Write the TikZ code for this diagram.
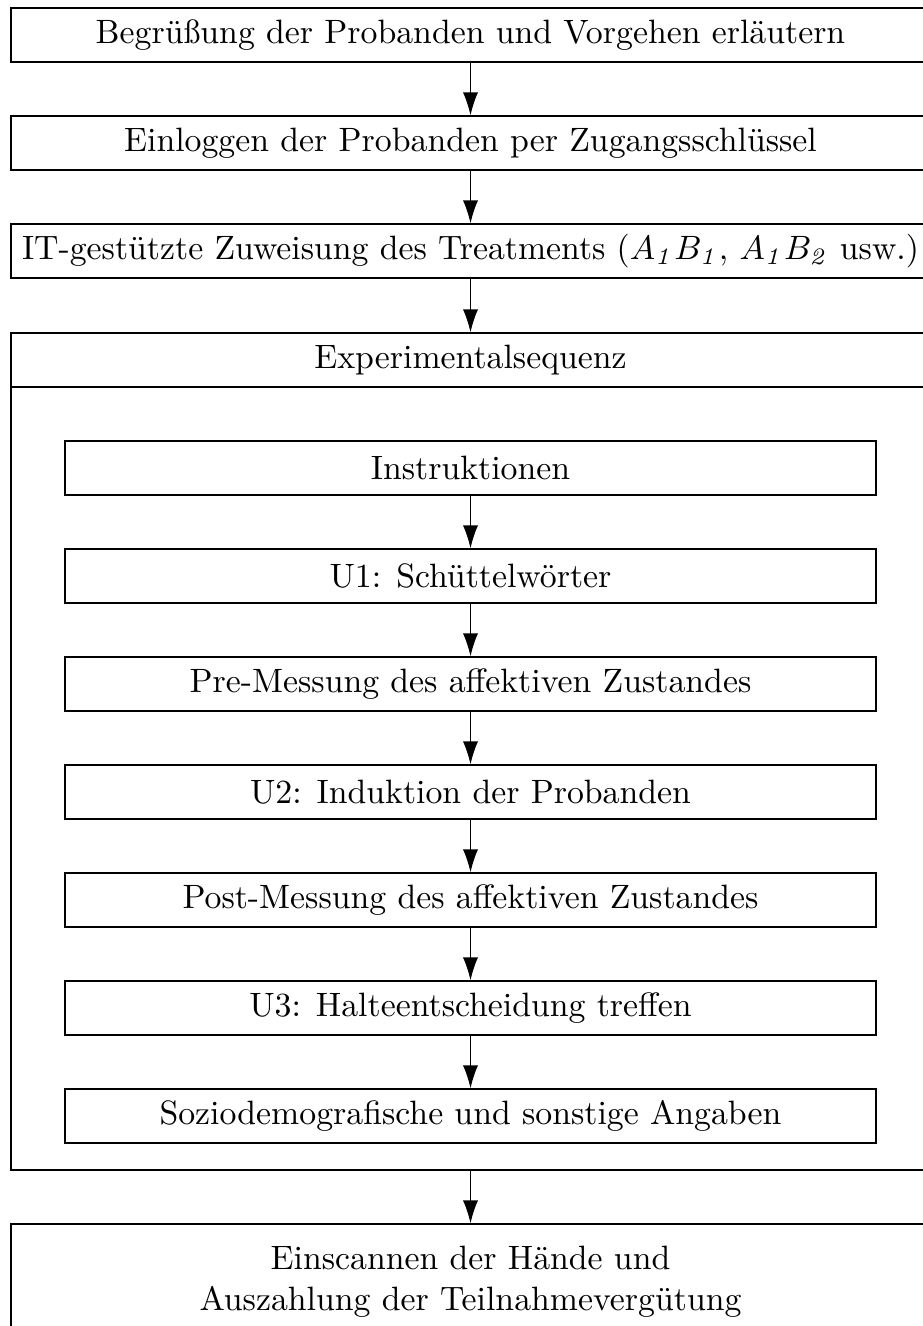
\documentclass[tikz,border=0pt]{standalone}
\usetikzlibrary{arrows.meta}
\begin{document}
\begin{tikzpicture}[x=0.296pt,y=-0.296pt,
  box/.style={draw,line width=0.4pt,inner sep=0pt,minimum height=54*0.296pt,align=center},
  outerbox/.style={box,minimum width=919*0.296pt},
  innerbox/.style={box,minimum width=811*0.296pt},
  flow/.style={draw,line width=0.4pt,-{Latex[length=6.8pt,width=4.5pt]}}]
\useasboundingbox (0,0) rectangle (922,1326);
\node[outerbox] (b1) at (470.5,35) {Begrüßung der Probanden und Vorgehen erläutern};
\node[outerbox] (b2) at (470.5,143) {Einloggen der Probanden per Zugangsschlüssel};
\node[outerbox] (b3) at (470.5,251) {IT-gestützte Zuweisung des Treatments ($A_{\mathit{1}}B_{\mathit{1}}$, $A_{\mathit{1}}B_{\mathit{2}}$ usw.)};
\node[outerbox,minimum height=837*0.296pt] (seq) at (470.5,751.5) {};
\node[outerbox] (seqh) at (470.5,360) {Experimentalsequenz};
\node[innerbox] (i1) at (470.5,468) {Instruktionen};
\node[innerbox] (i2) at (470.5,576) {U1: Schüttelwörter};
\node[innerbox] (i3) at (470.5,684) {Pre-Messung des affektiven Zustandes};
\node[innerbox] (i4) at (470.5,792) {U2: Induktion der Probanden};
\node[innerbox] (i5) at (470.5,900) {Post-Messung des affektiven Zustandes};
\node[innerbox] (i6) at (470.5,1008) {U3: Halteentscheidung treffen};
\node[innerbox] (i7) at (470.5,1116) {Soziodemografische und sonstige Angaben};
\node[outerbox,minimum height=116*0.296pt] (b5) at (470.5,1282) {Einscannen der Hände und\\Auszahlung der Teilnahmevergütung};
\draw[flow] (b1) -- (b2);
\draw[flow] (b2) -- (b3);
\draw[flow] (b3) -- (seqh);
\draw[flow] (i1) -- (i2);
\draw[flow] (i2) -- (i3);
\draw[flow] (i3) -- (i4);
\draw[flow] (i4) -- (i5);
\draw[flow] (i5) -- (i6);
\draw[flow] (i6) -- (i7);
\draw[flow] (seq) -- (b5);
\end{tikzpicture}
\end{document}
